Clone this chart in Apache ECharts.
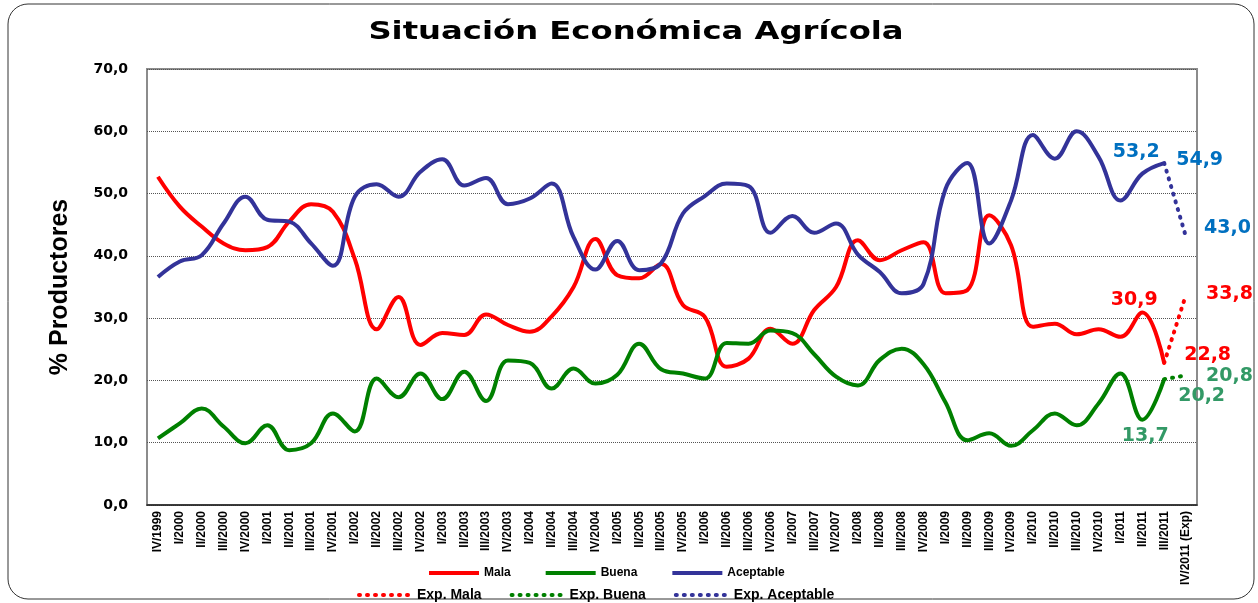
<!DOCTYPE html>
<html>
<head>
<meta charset="utf-8">
<title>Situación Económica Agrícola</title>
<script src="https://cdn.jsdelivr.net/npm/echarts@6/dist/echarts.min.js"></script>
<style>
html, body { margin: 0; padding: 0; background: #fff; }
#chart { width: 1258px; height: 603px; }
</style>
</head>
<body>
<div id="chart"></div>
<script>
// quarters (no II/2007 in the source)
var categories = ['IV/1999', 'I/2000', 'II/2000', 'III/2000', 'IV/2000', 'I/2001', 'II/2001', 'III/2001', 'IV/2001',
	'I/2002', 'II/2002', 'III/2002', 'IV/2002', 'I/2003', 'II/2003', 'III/2003', 'IV/2003',
	'I/2004', 'II/2004', 'III/2004', 'IV/2004', 'I/2005', 'II/2005', 'III/2005', 'IV/2005',
	'I/2006', 'II/2006', 'III/2006', 'IV/2006', 'I/2007', 'III/2007', 'IV/2007',
	'I/2008', 'II/2008', 'III/2008', 'IV/2008', 'I/2009', 'II/2009', 'III/2009', 'IV/2009',
	'I/2010', 'II/2010', 'III/2010', 'IV/2010', 'I/2011', 'II/2011', 'III/2011', 'IV/2011 (Exp)'];

var mala = [52.7, 47.9, 44.7, 42.0, 40.9, 41.4, 45.5, 48.3, 47.1,
	39.5, 28.2, 33.4, 25.7, 27.6, 27.3, 30.6, 28.9,
	27.8, 30.3, 35.0, 42.7, 36.9, 36.4, 38.7, 32.1,
	30.2, 22.2, 23.5, 28.3, 25.9, 31.3, 35.0,
	42.5, 39.3, 40.9, 42.2, 34.0, 34.5, 46.5, 41.7,
	28.6, 29.1, 27.4, 28.2, 27.0, 30.9, 22.8];

var buena = [10.7, 13.1, 15.5, 12.6, 9.9, 12.8, 8.8, 9.9, 14.7,
	11.8, 20.3, 17.3, 21.1, 17.0, 21.4, 16.7, 23.2,
	22.8, 18.7, 21.9, 19.5, 20.9, 25.9, 21.8, 21.1,
	20.3, 26.0, 25.9, 28.0, 27.6, 24.2, 20.6,
	19.2, 23.3, 25.1, 22.6, 16.5, 10.4, 11.5, 9.5,
	12.0, 14.7, 12.8, 16.3, 21.1, 13.7, 20.2];

var aceptable = [36.6, 39.1, 40.1, 45.2, 49.5, 45.8, 45.5, 42.0, 38.4,
	49.5, 51.5, 49.5, 53.5, 55.5, 51.3, 52.5, 48.3,
	49.2, 51.6, 43.0, 37.8, 42.4, 37.7, 38.8, 46.8,
	49.6, 51.6, 51.2, 43.7, 46.4, 43.7, 45.2,
	40.2, 37.4, 34.0, 35.5, 50.7, 54.9, 42.0, 48.9,
	59.4, 55.6, 60.0, 55.9, 48.9, 53.2, 54.9];

// expectativa: last observed quarter -> expected quarter
var expMala = [22.8, 33.8];
var expBuena = [20.2, 20.8];
var expAceptable = [54.9, 43.0];

var cRed = '#ff0000', cGreen = '#008000', cBlue = '#333399';
var lblRed = '#ff0000', lblGreen = '#339966', lblBlue = '#0070c0';

var fmt = function(v) {
	return v.toFixed(1).replace('.', ',');
};

var padEnd = function(arr) {
	var out = [];
	for (var i = 0; i < categories.length - arr.length; i++) {
		out.push(null);
	}
	return out.concat(arr);
};

// put value labels on some points, keyed by category index
var withLabels = function(list, marks) {
	return list.map(function(v, i) {
		var m = marks[i];
		if (!m || v == null) {
			return v;
		}
		return {
			value: v,
			label: {
				show: true,
				position: m.position,
				offset: m.offset,
				color: m.color,
				fontSize: 19,
				fontWeight: 'bold',
				fontFamily: 'DejaVu Sans',
				formatter: fmt(v)
			}
		};
	});
};

var last = categories.length - 1;
var malaMarks = {}, buenaMarks = {}, aceptMarks = {};
malaMarks[45] = { position: 'top', offset: [-8, 2], color: lblRed };
malaMarks[46] = { position: 'right', offset: [15, -8], color: lblRed };
buenaMarks[45] = { position: 'bottom', offset: [3, 2], color: lblGreen };
buenaMarks[46] = { position: 'right', offset: [9, 17], color: lblGreen };
aceptMarks[45] = { position: 'top', offset: [-6, -7], color: lblBlue };
aceptMarks[46] = { position: 'right', offset: [7, -3], color: lblBlue };
var expMalaMarks = {}, expBuenaMarks = {}, expAceptMarks = {};
expMalaMarks[last] = { position: 'right', offset: [15, 0], color: lblRed };
expBuenaMarks[last] = { position: 'right', offset: [15, 1], color: lblGreen };
expAceptMarks[last] = { position: 'right', offset: [13, -9], color: lblBlue };

var solid = function(name, data, color) {
	return {
		name: name,
		type: 'line',
		data: data,
		smooth: 0.4,
		symbol: 'circle',
		symbolSize: 0,
		showAllSymbol: true,
		lineStyle: { color: color, width: 4 },
		itemStyle: { color: color }
	};
};

var dotted = function(name, data, color) {
	return {
		name: name,
		type: 'line',
		data: data,
		symbol: 'circle',
		symbolSize: 0,
		showAllSymbol: true,
		lineStyle: { color: color, width: 4, type: [1, 7], cap: 'round' },
		itemStyle: { color: color }
	};
};

var chart = echarts.init(document.getElementById('chart'));
var option = {
	animation: false,
	backgroundColor: '#fff',
	graphic: [{
		type: 'rect',
		shape: { x: 8, y: 4, width: 1246, height: 595, r: 20 },
		style: { fill: 'none', stroke: '#333', lineWidth: 1 },
		silent: true
	}, {
		type: 'text',
		x: 636,
		y: 32,
		scaleX: 1.29,
		style: {
			text: 'Situación Económica Agrícola',
			font: 'bold 25px "DejaVu Sans"',
			fill: '#000',
			align: 'center',
			verticalAlign: 'middle'
		}
	}],
	grid: {
		left: 147,
		right: 61,
		top: 69,
		bottom: 98,
		show: true,
		borderColor: '#8c8c8c',
		borderWidth: 2
	},
	legend: [{
		data: ['Mala', 'Buena', 'Aceptable'],
		left: 427,
		top: 567,
		padding: 0,
		itemWidth: 50,
		itemHeight: 14,
		itemGap: 33,
		itemStyle: { opacity: 0 },
		lineStyle: { width: 4 },
		textStyle: { fontSize: 12, fontWeight: 'bold', fontFamily: 'Liberation Sans', color: '#000' }
	}, {
		data: ['Exp. Mala', 'Exp. Buena', 'Exp. Aceptable'],
		left: 357,
		top: 588,
		padding: 0,
		itemWidth: 53,
		itemHeight: 14,
		itemGap: 28,
		itemStyle: { opacity: 0 },
		lineStyle: { width: 4 },
		textStyle: { fontSize: 14, fontWeight: 'bold', fontFamily: 'Liberation Sans', color: '#000' }
	}],
	xAxis: {
		type: 'category',
		data: categories,
		boundaryGap: true,
		axisLine: { lineStyle: { color: '#222', width: 1.5 } },
		axisTick: { show: false },
		axisLabel: {
			interval: 0,
			rotate: 90,
			margin: 6,
			fontSize: 12,
			fontWeight: 'bold',
			fontFamily: 'Liberation Sans',
			color: '#000'
		}
	},
	yAxis: {
		type: 'value',
		min: 0,
		max: 70,
		interval: 10,
		name: '% Productores',
		nameLocation: 'middle',
		nameGap: 74,
		nameTextStyle: {
			fontSize: 25,
			fontWeight: 'bold',
			fontFamily: "'Liberation Sans Narrow', 'Liberation Sans', sans-serif",
			color: '#000'
		},
		axisLine: { show: false },
		axisTick: { show: false },
		axisLabel: {
			margin: 19,
			fontSize: 14,
			fontWeight: 'bold',
			fontFamily: 'DejaVu Sans',
			color: '#000',
			formatter: function(v) {
				return fmt(v);
			}
		},
		splitLine: { lineStyle: { color: '#555', type: 'dotted', width: 1 } }
	},
	series: [
		solid('Mala', withLabels(mala, malaMarks), cRed),
		solid('Buena', withLabels(buena, buenaMarks), cGreen),
		solid('Aceptable', withLabels(aceptable, aceptMarks), cBlue),
		dotted('Exp. Mala', withLabels(padEnd(expMala), expMalaMarks), cRed),
		dotted('Exp. Buena', withLabels(padEnd(expBuena), expBuenaMarks), cGreen),
		dotted('Exp. Aceptable', withLabels(padEnd(expAceptable), expAceptMarks), cBlue)
	]
};
chart.setOption(option);
</script>
</body>
</html>
